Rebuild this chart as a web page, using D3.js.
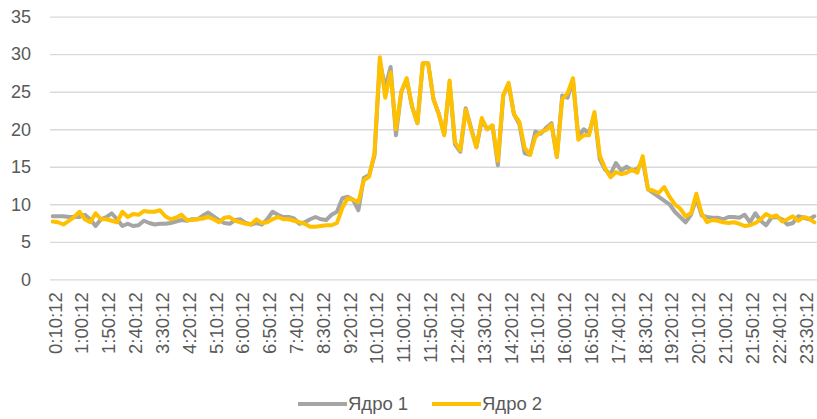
<!DOCTYPE html>
<html>
<head>
<meta charset="utf-8">
<script src="https://cdn.jsdelivr.net/npm/d3@7"></script>
<style>
  html, body { margin: 0; padding: 0; background: #fff; }
  svg { display: block; }
  text { font-family: "Liberation Sans", Arial, sans-serif; fill: #595959; }
</style>
</head>
<body>
<svg id="chart" width="817" height="419"></svg>
<script>
const categories = [
"0:10:12","0:20:12","0:30:12","0:40:12","0:50:12","1:00:12","1:10:12","1:20:12","1:30:12","1:40:12","1:50:12","2:00:12",
"2:10:12","2:20:12","2:30:12","2:40:12","2:50:12","3:00:12","3:10:12","3:20:12","3:30:12","3:40:12","3:50:12","4:00:12",
"4:10:12","4:20:12","4:30:12","4:40:12","4:50:12","5:00:12","5:10:12","5:20:12","5:30:12","5:40:12","5:50:12","6:00:12",
"6:10:12","6:20:12","6:30:12","6:40:12","6:50:12","7:00:12","7:10:12","7:20:12","7:30:12","7:40:12","7:50:12","8:00:12",
"8:10:12","8:20:12","8:30:12","8:40:12","8:50:12","9:00:12","9:10:12","9:20:12","9:30:12","9:40:12","9:50:12","10:00:12",
"10:10:12","10:20:12","10:30:12","10:40:12","10:50:12","11:00:12","11:10:12","11:20:12","11:30:12","11:40:12","11:50:12","12:00:12",
"12:10:12","12:20:12","12:30:12","12:40:12","12:50:12","13:00:12","13:10:12","13:20:12","13:30:12","13:40:12","13:50:12","14:00:12",
"14:10:12","14:20:12","14:30:12","14:40:12","14:50:12","15:00:12","15:10:12","15:20:12","15:30:12","15:40:12","15:50:12","16:00:12",
"16:10:12","16:20:12","16:30:12","16:40:12","16:50:12","17:00:12","17:10:12","17:20:12","17:30:12","17:40:12","17:50:12","18:00:12",
"18:10:12","18:20:12","18:30:12","18:40:12","18:50:12","19:00:12","19:10:12","19:20:12","19:30:12","19:40:12","19:50:12","20:00:12",
"20:10:12","20:20:12","20:30:12","20:40:12","20:50:12","21:00:12","21:10:12","21:20:12","21:30:12","21:40:12","21:50:12","22:00:12",
"22:10:12","22:20:12","22:30:12","22:40:12","22:50:12","23:00:12","23:10:12","23:20:12","23:30:12","23:40:12","23:50:12"
];

const tickLabels = [
"0:10:12","1:00:12","1:50:12","2:40:12","3:30:12","4:20:12","5:10:12","6:00:12","6:50:12","7:40:12",
"8:30:12","9:20:12","10:10:12","11:00:12","11:50:12","12:40:12","13:30:12","14:20:12","15:10:12","16:00:12",
"16:50:12","17:40:12","18:30:12","19:20:12","20:10:12","21:00:12","21:50:12","22:40:12","23:30:12"
];

const yTicks = [0, 5, 10, 15, 20, 25, 30, 35];

const seriesNames = ["Ядро 1", "Ядро 2"];

const core1 = [
8.4,8.4,8.4,8.3,8.3,8.3,8.6,8.0,7.1,8.0,8.3,8.8,
8.0,7.1,7.4,7.1,7.2,7.8,7.5,7.3,7.4,7.4,7.5,7.7,
7.9,7.8,8.0,8.0,8.5,8.9,8.4,7.9,7.5,7.4,7.9,8.0,
7.5,7.3,7.5,7.3,8.0,9.0,8.6,8.3,8.3,8.1,7.4,7.6,
8.0,8.3,8.0,7.9,8.6,9.0,10.8,11.0,10.6,9.2,13.5,13.9,
16.5,29.0,25.5,28.3,19.2,25.0,26.6,23.0,20.8,28.8,28.8,24.0,
22.0,19.3,26.2,18.0,17.0,22.8,20.2,17.6,21.2,20.0,20.5,15.2,
24.5,26.0,22.0,20.7,16.8,16.6,19.7,19.4,20.2,20.8,16.3,24.5,
24.2,26.5,19.0,20.0,19.5,22.0,16.0,14.6,14.0,15.5,14.5,15.0,
14.5,14.7,15.8,12.0,11.5,11.0,10.5,10.0,9.0,8.3,7.6,8.6,
10.8,8.5,8.3,8.2,8.2,8.0,8.3,8.3,8.2,8.6,7.6,8.8,
7.8,7.2,8.2,8.3,8.0,7.3,7.5,8.4,8.2,8.0,8.4
];

const core2 = [
7.7,7.6,7.3,7.8,8.3,9.0,8.0,7.6,8.8,8.0,8.0,7.8,
7.6,9.0,8.3,8.7,8.6,9.1,9.0,9.0,9.2,8.4,8.0,8.2,
8.6,7.9,7.9,8.0,8.1,8.3,8.0,7.6,8.2,8.3,7.8,7.6,
7.4,7.3,8.0,7.5,7.6,8.0,8.3,8.0,8.0,7.8,7.6,7.4,
7.0,7.0,7.1,7.2,7.2,7.5,9.5,10.8,10.6,10.3,13.2,13.7,
16.8,29.6,24.2,27.6,20.0,25.0,26.8,23.0,20.8,28.8,28.8,24.0,
22.0,19.2,26.5,18.3,17.2,22.6,20.0,17.6,21.5,20.0,20.5,15.8,
24.5,26.2,22.0,21.0,17.5,16.6,19.0,19.6,19.9,20.6,16.3,24.0,
24.8,26.8,18.6,19.2,19.2,22.3,16.5,14.8,13.6,14.3,14.0,14.2,
14.6,14.2,16.4,12.0,11.8,11.5,12.3,11.0,10.0,9.4,8.4,8.8,
11.4,8.8,7.6,7.9,7.8,7.6,7.5,7.6,7.4,7.1,7.2,7.5,
8.0,8.7,8.3,8.5,7.7,8.0,8.4,7.8,8.3,8.1,7.6
];

const colors = ["#A5A5A5", "#FFC000"];

const svg = d3.select("#chart");
const plotLeft = 50, plotRight = 817, plotTop = 16.7, plotBottom = 279.3;

const x = d3.scalePoint().domain(categories).range([plotLeft, plotRight]).padding(0.5);
const y = d3.scaleLinear().domain([0, 35]).range([plotBottom, plotTop]);

// gridlines + y labels
const yAxis = d3.axisLeft(y).tickValues(yTicks).tickSize(-(plotRight - plotLeft)).tickPadding(19);
const gy = svg.append("g").attr("transform", `translate(${plotLeft},0)`).call(yAxis);
gy.select(".domain").remove();
gy.selectAll(".tick line").attr("stroke", "#D9D9D9").attr("stroke-width", 1.3);
gy.selectAll(".tick text").attr("font-size", 18).attr("fill", "#595959")
  .style("font-family", '"Liberation Sans", Arial, sans-serif');

// x labels
const xAxis = d3.axisBottom(x).tickValues(tickLabels).tickSize(0).tickPadding(0);
const gx = svg.append("g").attr("transform", `translate(0,${plotBottom})`).call(xAxis);
gx.select(".domain").remove();
gx.selectAll(".tick text")
  .attr("font-size", 18.5)
  .attr("fill", "#595959")
  .style("font-family", '"Liberation Sans", Arial, sans-serif')
  .attr("text-anchor", "end")
  .attr("transform", "translate(2,13) rotate(-90)")
  .attr("x", 0).attr("y", 0).attr("dy", "0.35em");

// lines
const seriesData = [core1, core2];
const line = d3.line()
  .x((d, i) => x(categories[i]))
  .y(d => y(d));

svg.append("g").selectAll("path")
  .data(seriesData)
  .join("path")
  .attr("d", d => line(d))
  .attr("fill", "none")
  .attr("stroke", (d, i) => colors[i])
  .attr("stroke-width", 4)
  .attr("stroke-linejoin", "round")
  .attr("stroke-linecap", "round");

// legend
const legendItems = [
  { name: seriesNames[0], color: colors[0], x0: 298 },
  { name: seriesNames[1], color: colors[1], x0: 432 }
];
const lg = svg.append("g");
legendItems.forEach(it => {
  lg.append("line")
    .attr("x1", it.x0).attr("x2", it.x0 + 49)
    .attr("y1", 404).attr("y2", 404)
    .attr("stroke", it.color).attr("stroke-width", 4);
  lg.append("text")
    .attr("x", it.x0 + 50).attr("y", 404).attr("dy", "0.35em")
    .attr("font-size", 18.5)
    .text(it.name);
});
</script>
</body>
</html>
